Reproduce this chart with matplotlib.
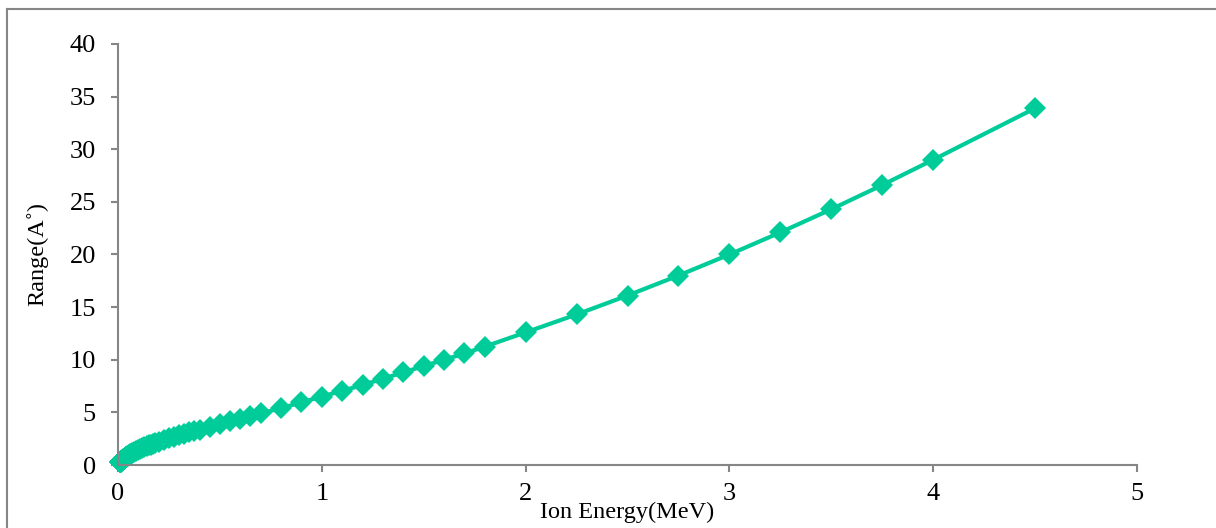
import matplotlib.pyplot as plt
from matplotlib.lines import Line2D

# ion energy in MeV (SRIM style energy table)
energy = [0.010, 0.011, 0.012, 0.013, 0.014, 0.015, 0.016, 0.017, 0.018, 0.020,
          0.0225, 0.025, 0.0275, 0.030, 0.0325, 0.035, 0.0375, 0.040, 0.045, 0.050,
          0.055, 0.060, 0.065, 0.070, 0.080, 0.090, 0.100, 0.110, 0.120, 0.130,
          0.140, 0.150, 0.160, 0.170, 0.180, 0.200, 0.225, 0.250, 0.275, 0.300,
          0.325, 0.350, 0.375, 0.400, 0.45, 0.50, 0.55, 0.60, 0.65, 0.70,
          0.80, 0.90, 1.0, 1.1, 1.2, 1.3, 1.4, 1.5, 1.6, 1.7,
          1.8, 2.0, 2.25, 2.5, 2.75, 3.0, 3.25, 3.5, 3.75, 4.0, 4.5]

ion_range = [0.24, 0.26, 0.28, 0.30, 0.32, 0.34, 0.36, 0.38, 0.40, 0.44,
             0.48, 0.53, 0.57, 0.61, 0.65, 0.69, 0.72, 0.76, 0.83, 0.90,
             0.96, 1.02, 1.08, 1.13, 1.24, 1.34, 1.44, 1.53, 1.62, 1.70,
             1.78, 1.86, 1.94, 2.01, 2.08, 2.22, 2.38, 2.54, 2.69, 2.83,
             2.97, 3.10, 3.23, 3.36, 3.62, 3.88, 4.14, 4.40, 4.65, 4.90,
             5.40, 5.95, 6.50, 7.05, 7.60, 8.20, 8.80, 9.40, 10.0, 10.6,
             11.25, 12.6, 14.3, 16.1, 18.0, 20.0, 22.1, 24.3, 26.6, 29.0, 33.9]

x_ticks = [0, 1, 2, 3, 4, 5]
y_ticks = [0, 5, 10, 15, 20, 25, 30, 35, 40]

plt.rcParams['font.family'] = ['Liberation Serif', 'DejaVu Serif']

W, H = 1216, 528
fig = plt.figure(figsize=(W / 100, H / 100), dpi=100)
ax = fig.add_axes([118 / W, 63 / H, (1137 - 118) / W, (465 - 44) / H])

ax.plot(energy, ion_range, color='#00CC99', linewidth=3, marker='D',
        markersize=11, markeredgewidth=0, clip_on=False)

ax.set_xlim(0, 5)
ax.set_ylim(0, 40)
ax.set_xticks(x_ticks)
ax.set_yticks(y_ticks)

for side in ['top', 'right']:
    ax.spines[side].set_visible(False)
for side in ['left', 'bottom']:
    ax.spines[side].set_color('#868686')
    ax.spines[side].set_linewidth(1.5)
ax.tick_params(direction='out', length=5, width=1.5, color='#868686',
               labelsize=19)
ax.tick_params(axis='y', pad=11)
ax.tick_params(axis='x', pad=8)

ax.set_xlabel('Ion Energy(MeV)', fontsize=17.5)
ax.xaxis.set_label_coords(0.5, -0.1116)
ax.xaxis.label.set_va('center')
ax.set_ylabel('Range(A˚)', fontsize=17.5)
ax.yaxis.set_label_coords(-0.0795, 0.5)
ax.yaxis.label.set_va('center')

# outer chart-area border (top and left visible)
fig.add_artist(Line2D([7 / W, 1], [1 - 9 / H, 1 - 9 / H], color='#868686', linewidth=1.5))
fig.add_artist(Line2D([7 / W, 7 / W], [0, 1 - 9 / H], color='#868686', linewidth=1.5))

fig.savefig('out.png', dpi=100)
